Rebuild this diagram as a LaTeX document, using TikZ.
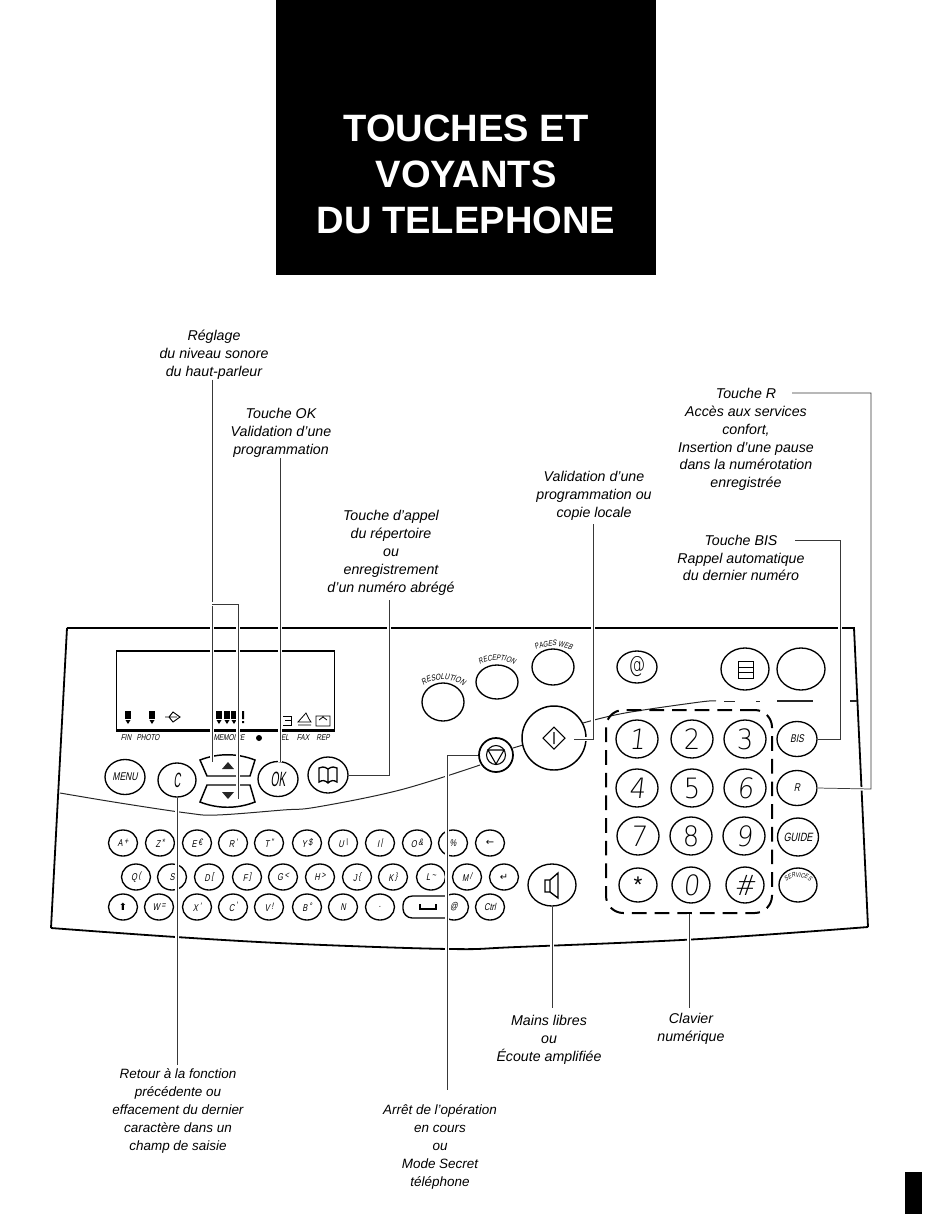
\documentclass[tikz,border=0pt]{standalone}
\usepackage{fontspec}
\setmainfont{Liberation Sans}
\newfontfamily\djv{DejaVu Sans}
\newfontfamily\thinf[FakeSlant=.12,FakeStretch=.92]{DejaVu Sans ExtraLight}
\newfontfamily\thinu[FakeStretch=.92]{DejaVu Sans ExtraLight}
\newfontfamily\cnd[FakeStretch=.76,FakeSlant=.2]{Liberation Sans}
\usetikzlibrary{shapes.geometric,decorations.text}
\newcommand\kk[2]{#1\,\raisebox{1.8pt}{\scalebox{.95}{#2}}}
\tikzset{
  x=.75pt,y=-.75pt,
  bt/.style n args={2}{ellipse,draw,line width=1pt,inner sep=-5pt,minimum width=#1*.75pt,minimum height=#2*.75pt},
  kb/.style={bt={29}{26},line width=1pt,font=\cnd\fontsize{7.4}{7.4}\selectfont},
  fk/.style={bt={40}{35},font=\cnd\fontsize{8.4}{8.4}\selectfont},
  nk/.style={bt={42}{38},font=\thinf\fontsize{21}{21}\selectfont},
  nu/.style={bt={42}{38},font=\thinu\fontsize{21}{21}\selectfont},
  captxt/.style={align=center,inner sep=0pt,font=\fontsize{10.65}{13.4}\selectfont\itshape},
  captn/.style={captxt,font=\fontsize{10.1}{13.4}\selectfont\itshape},
  lcdtxt/.style={inner sep=0pt,font=\cnd\fontsize{6.4}{6.4}\selectfont},
  leader/.style={draw=black!78,line width=.55pt,preaction={draw=white,line width=2.6pt}},
  panel/.style={draw=black,line width=1.35pt},
  thinl/.style={draw=black!85,line width=.75pt},
}
\begin{document}
\begin{tikzpicture}
\useasboundingbox (0,0) rectangle (950,1214);
% title
\node[fill=black,minimum width=285pt,minimum height=206.25pt,inner sep=0pt] (title) at (466,137.5) {};
\node[text=white,inner sep=0pt,align=center,font=\fontsize{28.6}{34.6}\selectfont\bfseries] (titletxt) at (466,174.5) {TOUCHES ET\\VOYANTS\\DU TELEPHONE};
\node[fill=black,minimum width=12.75pt,minimum height=31.5pt,inner sep=0pt] (bar) at (913.5,1193) {};
% panel
\draw[panel] (67,628) -- (854,628) -- (868,927);
\draw[panel] plot[smooth,tension=.6] coordinates {(868,927) (700,939) (517,947) (450,949) (300,944) (176,937) (51,928)};
\draw[panel] (51,928) -- (67,628);
\draw[thinl] plot[smooth,tension=.6] coordinates {(60,793) (120,803) (187,813) (217,815) (283,810) (317,807) (400,790) (480,765)};
\draw[thinl] (513,748) -- (523,745);
\draw[thinl] plot[smooth,tension=.6] coordinates {(583,723) (625,713) (700,702) (716,701)};
\draw[thinl] (724,701) -- (735,701) (756,701) -- (760,701);
\draw[thinl,line width=.9pt] (777,701) -- (813,701) (850,701) -- (857,701);
% display
\node[draw=black,line width=.8pt,minimum width=163pt,minimum height=59.25pt,inner sep=0pt] (lcd) at (225.5,690.5) {};
\draw[line width=1.5pt] (lcd.south west) -- (lcd.south east);
\foreach \x in {128,152,219,227,234}{
  \fill (\x-3,711) rectangle (\x+3,719);
  \fill (\x-2.5,720) -- (\x+2.5,720) -- (\x,724) -- cycle;
}
\draw[line width=.7pt] (165,717) -- (177,717) (173,712) -- (180,717) -- (173,722) -- (169,717) -- cycle;
\fill (242,711) rectangle (244,719) (242,721) rectangle (244,723);
\draw[line width=.6pt] (283,716) -- (291,716) -- (291,725) -- (283,725) (285,720) -- (291,720);
\draw[line width=.6pt] (298,725) -- (311,725) (298,722) -- (311,722) -- (309,719) -- (306,713) -- cycle;
\draw[line width=.6pt] (316,716) rectangle (330,726) (319,720) -- (323,717) -- (327,720);
\node[lcdtxt] (tfin) at (126,738) {FIN};
\node[lcdtxt] (tpho) at (148,738) {PHOTO};
\node[lcdtxt] (tmem) at (229,738) {MEMOIRE};
\node[circle,fill=black,inner sep=0pt,minimum size=4.5pt] (tdot) at (259,738) {};
\node[lcdtxt] (ttel) at (283,738) {TEL};
\node[lcdtxt] (tfax) at (303,738) {FAX};
\node[lcdtxt] (trep) at (323,738) {REP};
% function row
\node[fk] (kmenu) at (125,777) {MENU};
\node[bt={38}{34},font=\cnd\fontsize{15.5}{15.5}\selectfont] (kc) at (177,780) {\scalebox{.6}[1]{C}};
\draw[line width=1.1pt] (200,760) .. controls (218,753) and (237,753) .. (255,760) -- (250,776) -- (207,776) -- cycle;
\draw[line width=1.1pt] (207,785) -- (250,785) -- (255,802) .. controls (237,809) and (218,809) .. (200,802) -- cycle;
\fill[black!85] (228,762) -- (222,769) -- (234,769) -- cycle;
\fill[black!85] (228,799) -- (222,792) -- (234,792) -- cycle;
\node[bt={40}{35},font=\cnd\fontsize{15.5}{15.5}\selectfont] (kok) at (278,779) {\scalebox{.65}[1]{OK}};
\node[bt={40}{36}] (kbook) at (328,775) {};
\draw[line width=1pt] (328,769) .. controls (324,766) and (321,767) .. (319,768) -- (319,782) .. controls (322,780) and (325,780) .. (328,783) .. controls (331,780) and (334,780) .. (337,782) -- (337,768) .. controls (335,767) and (332,766) .. (328,769) -- cycle (328,769) -- (328,783);
% upper keys
\node[bt={42}{38}] (kres) at (443,702) {};
\node[bt={42}{34}] (krec) at (497,682) {};
\node[bt={42}{36}] (kweb) at (553,667) {};
\node[bt={40}{32},font=\thinu\fontsize{17}{17}\selectfont] (kat) at (637,667) {\scalebox{.8}[1]{@}};
\node[bt={48}{42}] (klist) at (745,669) {};
\draw[line width=.7pt] (738,661) rectangle (753,678) (738,667) -- (753,667) (738,672.5) -- (753,672.5);
\node[bt={48}{42}] (kblank) at (801,669) {};
\path[decorate,decoration={text along path,text align=center,text={|\cnd\fontsize{6.4}{6.4}\selectfont|RESOLUTION}}] (421,688) .. controls (430,677) and (456,677) .. (466,688);
\path[decorate,decoration={text along path,text align=center,text={|\cnd\fontsize{6}{6}\selectfont|RECEPTION}}] (477,667) .. controls (485,658) and (509,658) .. (517,667);
\path[decorate,decoration={text along path,text align=center,text={|\cnd\fontsize{6}{6}\selectfont|PAGES WEB}}] (533,652) .. controls (542,644) and (564,644) .. (574,652);
% start / stop
\node[circle,draw,line width=1.1pt,inner sep=0pt,minimum size=48pt] (kstart) at (554,738) {};
\draw[line width=.8pt] (554,727) -- (565,738) -- (554,749) -- (543,738) -- cycle (554,732) -- (554,744);
\node[circle,draw,line width=1.3pt,inner sep=0pt,minimum size=25.5pt] (kstop) at (496,755) {};
\draw[line width=.8pt] (496,755) circle (9.5);
\draw[line width=.8pt] (488,750) -- (504,750) -- (496,764) -- cycle;
% keypad
\node[draw,line width=1.5pt,dash pattern=on 11pt off 6pt,rounded corners=13pt,minimum width=124.5pt,minimum height=152.25pt,inner sep=0pt] (pad) at (689,811.5) {};
\node[nk] (k1) at (637,739) {1};
\node[nu] (k2) at (692,739) {2};
\node[nu] (k3) at (745,739) {3};
\node[nk] (k4) at (637,788) {4};
\node[nu] (k5) at (692,788) {5};
\node[nk] (k6) at (745,788) {6};
\node[nk] (k7) at (638,836) {7};
\node[nu] (k8) at (691,836) {8};
\node[nk] (k9) at (744,836) {9};
\node[bt={38}{34},font=\fontsize{17}{17}\selectfont] (kstar) at (638,885) {*};
\node[bt={38}{36},font=\thinf\fontsize{21}{21}\selectfont] (k0) at (691,885) {0};
\node[bt={38}{36},font=\thinf\fontsize{21}{21}\selectfont] (khash) at (745,885) {\#};
\node[fk] (kbis) at (797,739) {BIS};
\node[fk] (kr) at (797,788) {R};
\node[bt={41}{38},font=\cnd\fontsize{9}{9}\selectfont] (kguide) at (798,837) {GUIDE};
\node[bt={38}{34}] (kserv) at (798,885) {};
\path[decorate,decoration={text along path,text align=center,text={|\cnd\fontsize{5}{5}\selectfont|SERVICES}}] (783,886) .. controls (788,874) and (808,874) .. (813,886);
% speaker
\node[bt={48}{42}] (kspk) at (552,885) {};
\draw[line width=1pt] (545,880) rectangle (550,892) (550,880) -- (558,873) -- (558,898) -- (550,892);
% keyboard
\foreach \n/\x/\t in {a/123/{\kk{A}{+}},z/160/{\kk{Z}{*}},e/197/{\kk{E}{€}},r/233/{\kk{R}{'}},t/269/{\kk{T}{"}},y/307/{\kk{Y}{\$}},u/343/{\kk{U}{\textbackslash}},i/380/{\kk{I}{|}},o/417/{\kk{O}{\&}},pc/453/{\%},bk/490/{\djv ←}}
  \node[kb] (ta\n) at (\x,843) {\t};
\foreach \n/\x/\t in {q/136/{\kk{Q}{(}},s/172/{S},d/209/{\kk{D}{[}},f/247/{\kk{F}{]}},g/283/{\kk{G}{<}},h/320/{\kk{H}{>}},j/357/{\kk{J}{\{}},l/393/{\kk{K}{\}}},m/431/{\kk{L}{\textasciitilde}},n/467/{\kk{M}{/}},ent/504/{\djv ↵}}
  \node[kb] (tb\n) at (\x,877) {\t};
\foreach \n/\x/\t in {sh/123/{\djv ⬆},w/159/{\kk{W}{=}},x/197/{\kk{X}{'}},cc/233/{\kk{C}{'}},v/269/{\kk{V}{!}},b/307/{\kk{B}{\textdegree}},nn/343/{N},pt/380/{.},atk/454/{@},ctl/490/{\upshape Ctrl}}
  \node[kb] (tc\n) at (\x,907) {\t};
\fill[white] (436,892) rectangle (446,922);
\draw[line width=1pt,rounded corners=7pt] (447,896) -- (403,896) -- (403,918) -- (447,918);
\draw[line width=.9pt] (420,904) -- (420,909) -- (436,909) -- (436,904);
% captions
\node[captxt] (lreg) at (214,355) {Réglage\\du niveau sonore\\du haut-parleur};
\node[captxt] (lok) at (281,433) {Touche OK\\Validation d'une\\programmation};
\node[captxt] (lbook) at (391,553) {Touche  d'appel\\du répertoire\\ou\\enregistrement\\d'un numéro abrégé};
\node[captxt] (lval) at (594,496) {Validation d'une\\programmation ou\\copie locale};
\node[captxt] (lr) at (746,439.5) {Touche R\\Accès aux services\\confort,\\Insertion d'une pause\\dans la numérotation\\enregistrée};
\node[captxt] (lbis) at (741,558) {Touche BIS\\Rappel automatique\\du dernier numéro};
\node[captn] (lret) at (178,1111) {Retour à la fonction\\précédente ou\\effacement du dernier\\caractère dans un\\champ de saisie};
\node[captn] (larr) at (440,1147) {Arrêt de l'opération\\en cours\\ou\\Mode Secret\\téléphone};
\node[captxt] (lmain) at (549,1040) {Mains libres\\ou\\Écoute amplifiée};
\node[captxt] (lcla) at (691,1029) {Clavier\\numérique};
% connectors
\coordinate (up) at (212,762);
\coordinate (j1) at (212,604);
\coordinate (dn) at (238,799);
\coordinate (okc) at (280,762);
\coordinate (bookc) at (389,600);
\coordinate (valc) at (593,524);
\coordinate (valend) at (574,739);
\coordinate (stopc) at (447,1090);
\coordinate (b0) at (795,540);
\coordinate (bc) at (840,739);
\coordinate (r0) at (792,393);
\coordinate (rc) at (871,789);
\coordinate (retc) at (177,1065);
\coordinate (spkc) at (552,1008);
\coordinate (padc) at (689,1008);
\draw[leader] (lreg.south -| up) -- (up);
\draw[leader] (j1) -| (dn);
\draw[leader] (lok.south -| okc) -- (okc);
\draw[leader] (bookc) |- (kbook.east);
\draw[leader] (valc) |- (valend);
\draw[leader] (kstop.west) -| (stopc);
\draw[leader] (b0) -| (bc) -- (kbis.east);
\draw[leader] (r0) -| (rc) -- (kr.east);
\draw[leader] (kc.south) -- (retc);
\draw[leader] (kspk.south) -- (spkc);
\draw[leader] (pad.south) -- (padc);
\end{tikzpicture}
\end{document}
